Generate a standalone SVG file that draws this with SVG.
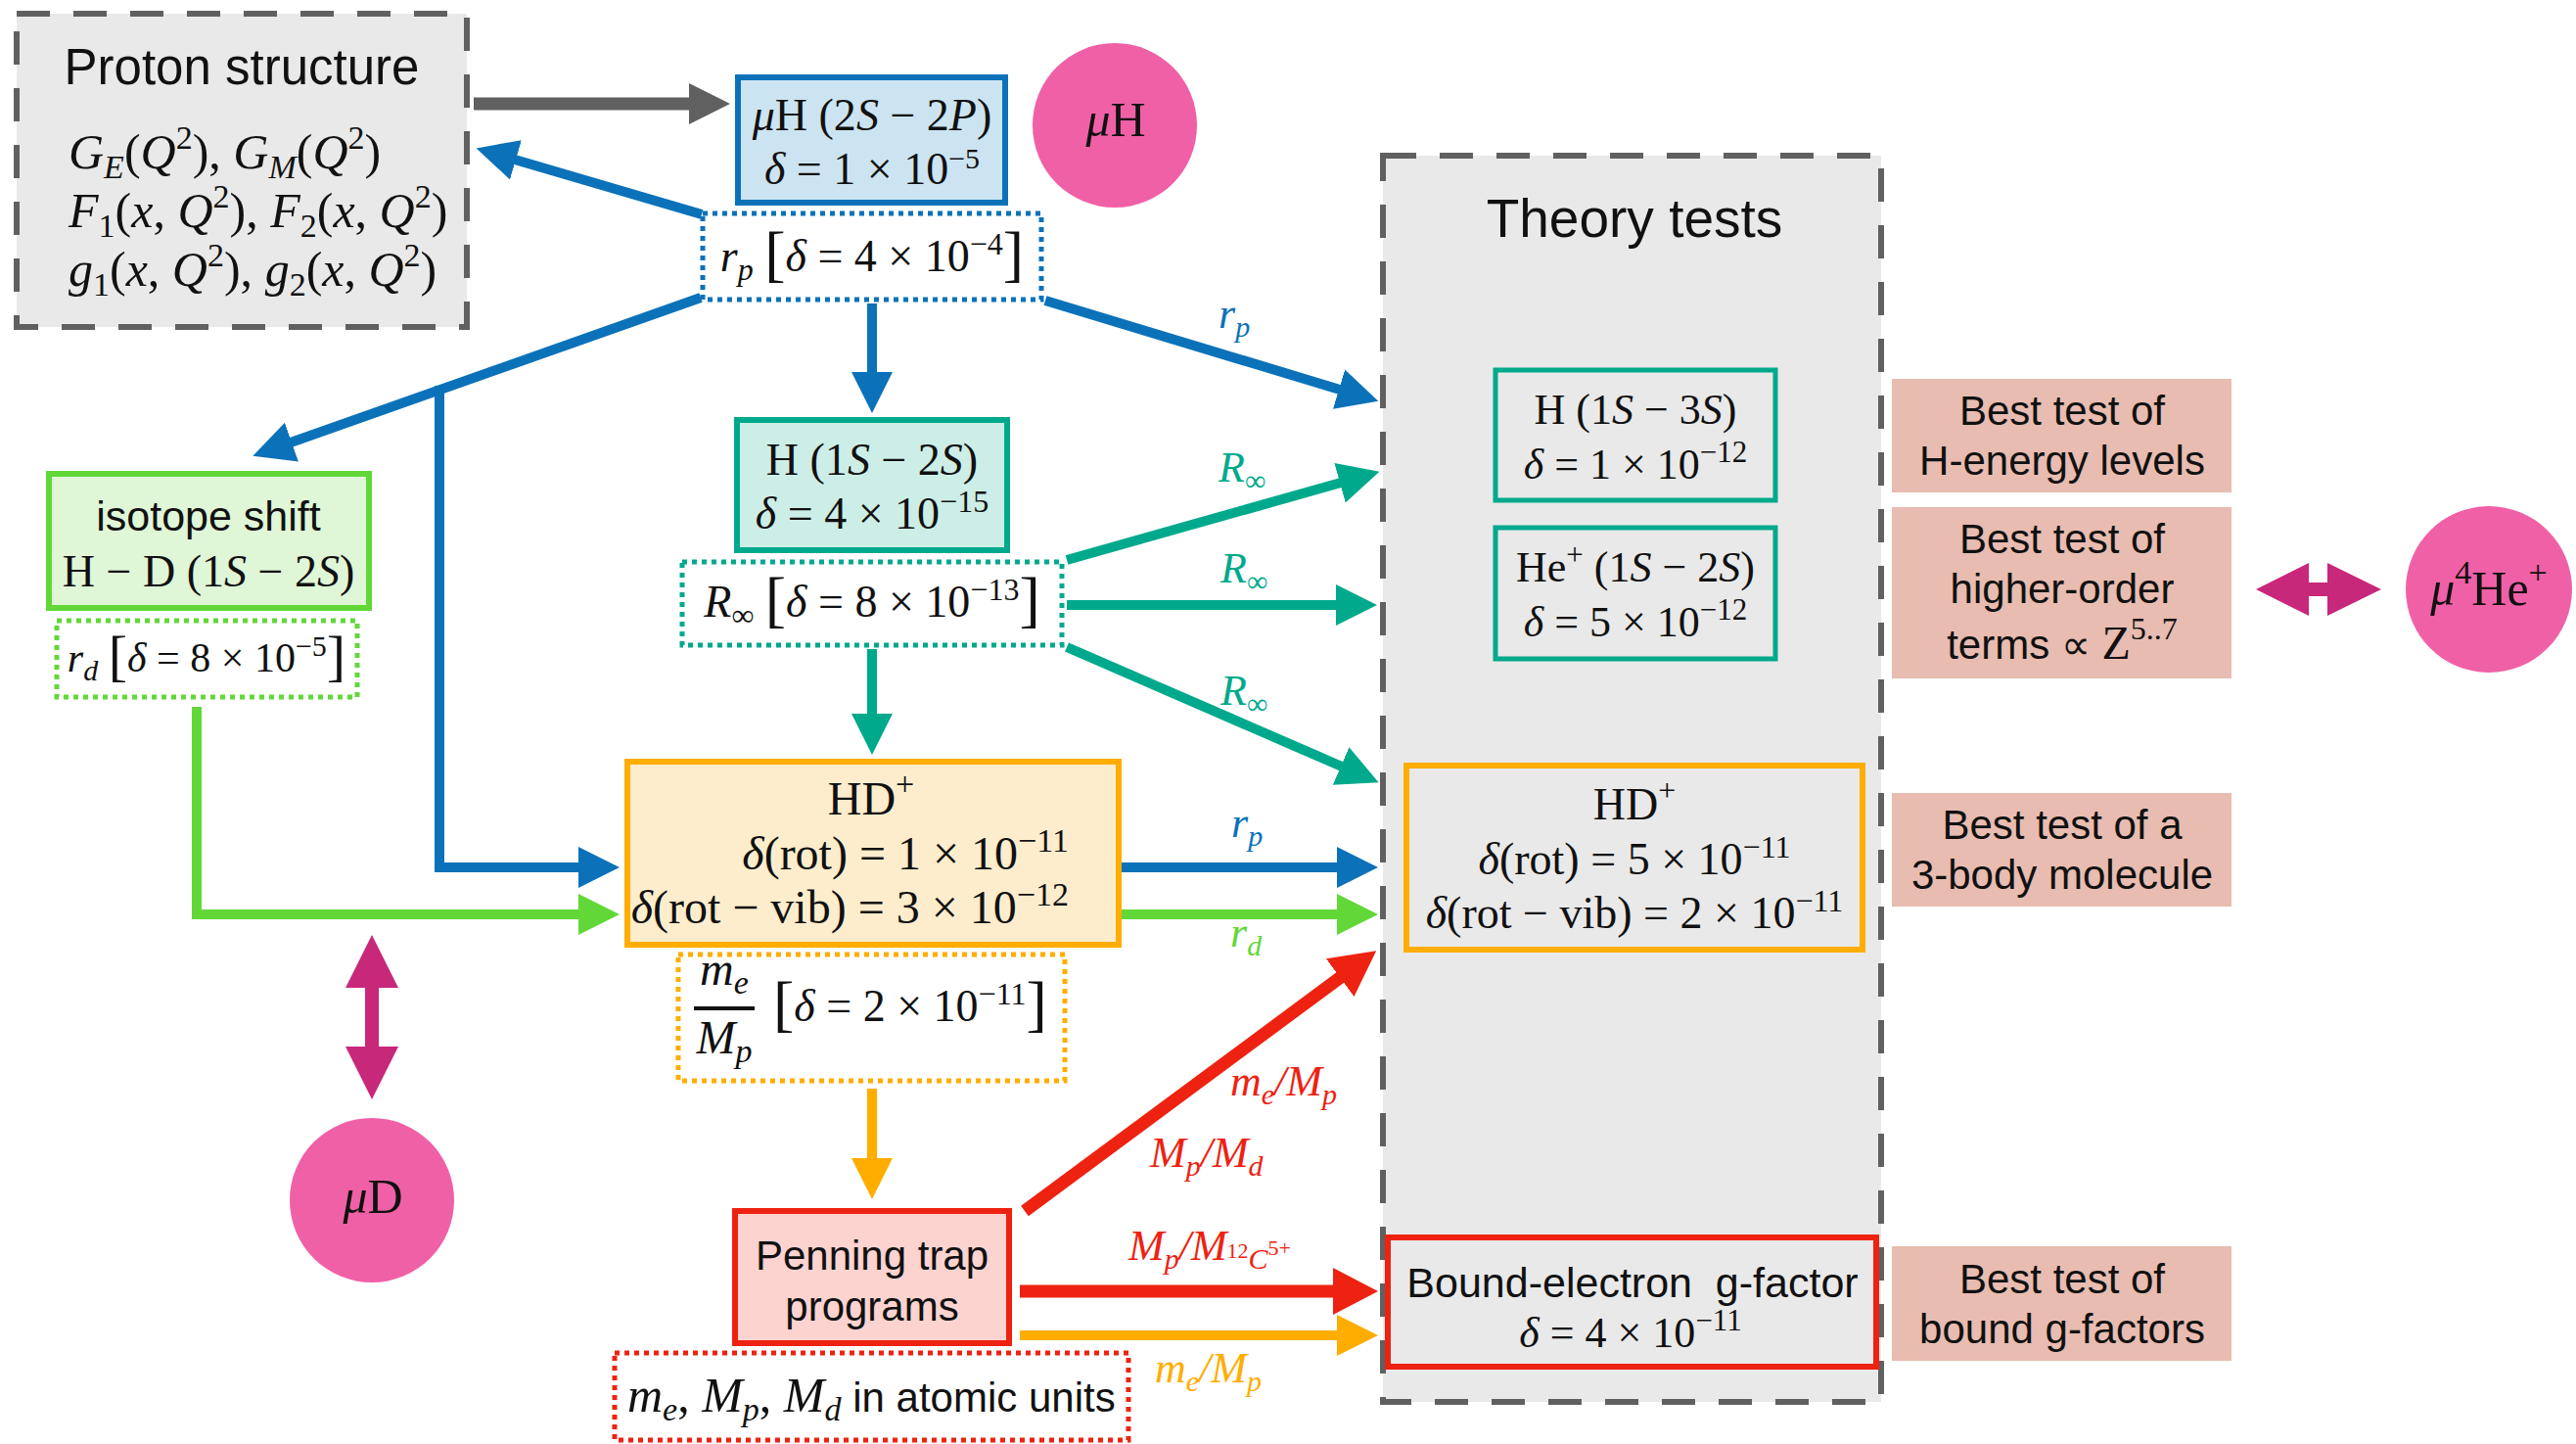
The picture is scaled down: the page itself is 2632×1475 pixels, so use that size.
<svg xmlns="http://www.w3.org/2000/svg" width="2632" height="1475" viewBox="0 0 2632 1475">
<defs>
<style>
.s{font-family:"Liberation Sans",Arial,sans-serif;fill:#111}
.m{font-family:"Liberation Serif","Times New Roman",serif;fill:#111}
.i{font-style:italic}
.c{text-anchor:middle}
.e{text-anchor:end}
.br{font-size:64px}
.dash{fill:#e9e9e9;stroke:#606060;stroke-width:6;stroke-dasharray:34 24}
.dot{fill:none;stroke-width:5;stroke-dasharray:5 5}
.ln{fill:none;stroke-width:10}
.lbl{font-family:"Liberation Serif","Times New Roman",serif;font-style:italic;font-size:44px}
.pink{fill:#f060a7}
.sal{fill:#e8bcb0}
</style>
<marker id="hb" markerUnits="userSpaceOnUse" markerWidth="50" markerHeight="54" viewBox="0 -27 50 54" refX="1" refY="0" orient="auto"><path d="M0,-21L42,0L0,21z" fill="#0b72b9"/></marker>
<marker id="ht" markerUnits="userSpaceOnUse" markerWidth="50" markerHeight="54" viewBox="0 -27 50 54" refX="1" refY="0" orient="auto"><path d="M0,-21L42,0L0,21z" fill="#00a98c"/></marker>
<marker id="hg" markerUnits="userSpaceOnUse" markerWidth="50" markerHeight="54" viewBox="0 -27 50 54" refX="1" refY="0" orient="auto"><path d="M0,-21L42,0L0,21z" fill="#62d838"/></marker>
<marker id="ho" markerUnits="userSpaceOnUse" markerWidth="50" markerHeight="54" viewBox="0 -27 50 54" refX="1" refY="0" orient="auto"><path d="M0,-21L42,0L0,21z" fill="#ffad00"/></marker>
<marker id="hr" markerUnits="userSpaceOnUse" markerWidth="50" markerHeight="54" viewBox="0 -27 50 54" refX="1" refY="0" orient="auto"><path d="M0,-24L46,0L0,24z" fill="#ee2211"/></marker>
<marker id="hk" markerUnits="userSpaceOnUse" markerWidth="50" markerHeight="54" viewBox="0 -27 50 54" refX="1" refY="0" orient="auto"><path d="M0,-21L42,0L0,21z" fill="#606060"/></marker>
</defs>
<rect width="2632" height="1475" fill="#fff"/>

<g id="theory-tests">
<rect class="dash" x="1413" y="159" width="509" height="1273"/>
<text class="s c" x="1670" y="242" font-size="55">Theory tests</text>
</g>

<g id="proton-structure">
<rect class="dash" x="17" y="14" width="460" height="320"/>
<text class="s c" x="247" y="86" font-size="51">Proton structure</text>
<text class="m" x="70" y="172" font-size="50"><tspan class="i">G</tspan><tspan class="i" font-size="34" dy="10">E</tspan><tspan dy="-10">(</tspan><tspan class="i">Q</tspan><tspan font-size="34" dy="-20">2</tspan><tspan dy="20">), </tspan><tspan class="i">G</tspan><tspan class="i" font-size="34" dy="10">M</tspan><tspan dy="-10">(</tspan><tspan class="i">Q</tspan><tspan font-size="34" dy="-20">2</tspan><tspan dy="20">)</tspan></text>
<text class="m" x="70" y="232" font-size="50"><tspan class="i">F</tspan><tspan font-size="34" dy="10">1</tspan><tspan dy="-10">(</tspan><tspan class="i">x</tspan><tspan>, </tspan><tspan class="i">Q</tspan><tspan font-size="34" dy="-20">2</tspan><tspan dy="20">), </tspan><tspan class="i">F</tspan><tspan font-size="34" dy="10">2</tspan><tspan dy="-10">(</tspan><tspan class="i">x</tspan><tspan>, </tspan><tspan class="i">Q</tspan><tspan font-size="34" dy="-20">2</tspan><tspan dy="20">)</tspan></text>
<text class="m" x="70" y="292" font-size="50"><tspan class="i">g</tspan><tspan font-size="34" dy="10">1</tspan><tspan dy="-10">(</tspan><tspan class="i">x</tspan><tspan>, </tspan><tspan class="i">Q</tspan><tspan font-size="34" dy="-20">2</tspan><tspan dy="20">), </tspan><tspan class="i">g</tspan><tspan font-size="34" dy="10">2</tspan><tspan dy="-10">(</tspan><tspan class="i">x</tspan><tspan>, </tspan><tspan class="i">Q</tspan><tspan font-size="34" dy="-20">2</tspan><tspan dy="20">)</tspan></text>
</g>

<g id="connectors">
<line x1="484" y1="106" x2="705" y2="106" stroke="#606060" stroke-width="13" marker-end="url(#hk)"/>
<line class="ln" x1="717" y1="219" x2="526" y2="163" stroke="#0b72b9" marker-end="url(#hb)"/>
<line class="ln" x1="716" y1="304" x2="297" y2="452" stroke="#0b72b9" marker-end="url(#hb)"/>
<polyline class="ln" points="449,394 449,886 592,886" stroke="#0b72b9" marker-end="url(#hb)"/>
<line class="ln" x1="891" y1="310" x2="891" y2="381" stroke="#0b72b9" marker-end="url(#hb)"/>
<line class="ln" x1="1068" y1="307" x2="1369" y2="398" stroke="#0b72b9" marker-end="url(#hb)"/>
<line class="ln" x1="1146" y1="886" x2="1367" y2="886" stroke="#0b72b9" marker-end="url(#hb)"/>
<line class="ln" x1="1090" y1="572" x2="1370" y2="493" stroke="#00a98c" marker-end="url(#ht)"/>
<line class="ln" x1="1090" y1="618" x2="1366" y2="618" stroke="#00a98c" marker-end="url(#ht)"/>
<line class="ln" x1="1090" y1="661" x2="1371" y2="783" stroke="#00a98c" marker-end="url(#ht)"/>
<line class="ln" x1="891" y1="663" x2="891" y2="730" stroke="#00a98c" marker-end="url(#ht)"/>
<polyline class="ln" points="201,722 201,934 592,934" stroke="#62d838" marker-end="url(#hg)"/>
<line class="ln" x1="1146" y1="934" x2="1367" y2="934" stroke="#62d838" marker-end="url(#hg)"/>
<line class="ln" x1="891" y1="1112" x2="891" y2="1184" stroke="#ffad00" marker-end="url(#ho)"/>
<line class="ln" x1="1042" y1="1364" x2="1367" y2="1364" stroke="#ffad00" marker-end="url(#ho)"/>
<line x1="1047" y1="1237" x2="1370" y2="998" stroke="#ee2211" stroke-width="13" marker-end="url(#hr)"/>
<line x1="1042" y1="1319" x2="1363" y2="1319" stroke="#ee2211" stroke-width="13" marker-end="url(#hr)"/>
<text class="lbl" x="1245" y="335" fill="#0b72b9">r<tspan font-size="30" dy="9">p</tspan></text>
<text class="lbl" x="1245" y="492" fill="#00a98c">R<tspan font-size="30" dy="9" font-style="normal">∞</tspan></text>
<text class="lbl" x="1247" y="595" fill="#00a98c">R<tspan font-size="30" dy="9" font-style="normal">∞</tspan></text>
<text class="lbl" x="1247" y="720" fill="#00a98c">R<tspan font-size="30" dy="9" font-style="normal">∞</tspan></text>
<text class="lbl" x="1258" y="855" fill="#0b72b9">r<tspan font-size="30" dy="9">p</tspan></text>
<text class="lbl" x="1257" y="967" fill="#62d838">r<tspan font-size="30" dy="9">d</tspan></text>
<text class="lbl" x="1257" y="1119" fill="#ee2211">m<tspan font-size="30" dy="9">e</tspan><tspan dy="-9">/M</tspan><tspan font-size="30" dy="9">p</tspan></text>
<text class="lbl" x="1175" y="1192" fill="#ee2211">M<tspan font-size="30" dy="9">p</tspan><tspan dy="-9">/M</tspan><tspan font-size="30" dy="9">d</tspan></text>
<text class="lbl" x="1153" y="1287" fill="#ee2211">M<tspan font-size="30" dy="9">p</tspan><tspan dy="-9">/M</tspan><tspan font-size="22" dy="-2" font-style="normal">12</tspan><tspan font-size="30" dy="11">C</tspan><tspan font-size="22" dy="-14" font-style="normal">5+</tspan></text>
<text class="lbl" x="1180" y="1412" fill="#ffad00">m<tspan font-size="30" dy="9">e</tspan><tspan dy="-9">/M</tspan><tspan font-size="30" dy="9">p</tspan></text>
</g>

<g id="muH-2S2P">
<rect x="754" y="79" width="273" height="128" fill="#cce4f2" stroke="#0b72b9" stroke-width="6"/>
<text class="m c" x="891" y="133" font-size="46"><tspan class="i">μ</tspan>H (2<tspan class="i">S</tspan> − 2<tspan class="i">P</tspan>)</text>
<text class="m c" x="891" y="188" font-size="46"><tspan class="i">δ</tspan> = 1 × 10<tspan font-size="30" dy="-16">−5</tspan></text>
</g>

<g id="muH">
<circle class="pink" cx="1139" cy="128" r="84"/>
<text class="m c" x="1140" y="139" font-size="50"><tspan class="i">μ</tspan>H</text>
</g>

<g id="rp">
<rect class="dot" x="718" y="218" width="346" height="88" stroke="#0b72b9"/>
<text class="m c" x="891" y="277" font-size="46"><tspan class="i">r</tspan><tspan class="i" font-size="32" dy="9">p</tspan><tspan dy="-9">  </tspan><tspan class="br" dy="3">[</tspan><tspan class="i" dy="-3">δ</tspan> = 4 × 10<tspan font-size="32" dy="-17">−4</tspan><tspan class="br" dy="20">]</tspan></text>
</g>

<g id="H-1S2S">
<rect x="753" y="429" width="276" height="133" fill="#cdeee7" stroke="#00a98c" stroke-width="6"/>
<text class="m c" x="891" y="485" font-size="46">H (1<tspan class="i">S</tspan> − 2<tspan class="i">S</tspan>)</text>
<text class="m c" x="891" y="540" font-size="46"><tspan class="i">δ</tspan> = 4 × 10<tspan font-size="32" dy="-17">−15</tspan></text>
</g>

<g id="Rinf">
<rect class="dot" x="697" y="574" width="388" height="85" stroke="#00a98c"/>
<text class="m c" x="891" y="630" font-size="46"><tspan class="i">R</tspan><tspan font-size="32" dy="9">∞</tspan><tspan dy="-9">  </tspan><tspan class="br" dy="3">[</tspan><tspan class="i" dy="-3">δ</tspan> = 8 × 10<tspan font-size="32" dy="-17">−13</tspan><tspan class="br" dy="20">]</tspan></text>
</g>

<g id="isotope-shift">
<rect x="50" y="484" width="327" height="137" fill="#dff6d7" stroke="#62d838" stroke-width="6"/>
<text class="s c" x="213" y="542" font-size="43">isotope shift</text>
<text class="m c" x="213" y="599" font-size="46">H − D (1<tspan class="i">S</tspan> − 2<tspan class="i">S</tspan>)</text>
</g>

<g id="rd">
<rect class="dot" x="58" y="634" width="307" height="78" stroke="#62d838"/>
<text class="m c" x="211" y="686" font-size="42"><tspan class="i">r</tspan><tspan class="i" font-size="30" dy="9">d</tspan><tspan dy="-9"> </tspan><tspan font-size="58" dy="3">[</tspan><tspan class="i" dy="-3">δ</tspan> = 8 × 10<tspan font-size="30" dy="-16">−5</tspan><tspan font-size="58" dy="19">]</tspan></text>
</g>

<g id="HDplus">
<rect x="641" y="778" width="502" height="187" fill="#feedcc" stroke="#ffad00" stroke-width="6"/>
<text class="m c" x="890" y="832" font-size="48">HD<tspan font-size="34" dy="-20">+</tspan></text>
<text class="m e" x="1092" y="888" font-size="48"><tspan class="i">δ</tspan>(rot) = 1 × 10<tspan font-size="34" dy="-18">−11</tspan></text>
<text class="m e" x="1092" y="943" font-size="48"><tspan class="i">δ</tspan>(rot − vib) = 3 × 10<tspan font-size="34" dy="-18">−12</tspan></text>
</g>

<g id="me-Mp">
<rect class="dot" x="693" y="975" width="395" height="129" stroke="#ffad00"/>
<text class="m c" x="740" y="1006" font-size="48"><tspan class="i">m</tspan><tspan class="i" font-size="34" dy="9">e</tspan></text>
<line x1="709" y1="1030" x2="771" y2="1030" stroke="#111" stroke-width="4"/>
<text class="m c" x="740" y="1076" font-size="48"><tspan class="i">M</tspan><tspan class="i" font-size="34" dy="9">p</tspan></text>
<text class="m" x="790" y="1043" font-size="46"><tspan class="br" dy="3">[</tspan><tspan class="i" dy="-3">δ</tspan> = 2 × 10<tspan font-size="32" dy="-17">−11</tspan><tspan class="br" dy="20">]</tspan></text>
</g>

<g id="penning-trap">
<rect x="751" y="1237" width="280" height="135" fill="#fdd3d0" stroke="#ee2211" stroke-width="6"/>
<text class="s c" x="891" y="1297" font-size="42">Penning trap</text>
<text class="s c" x="891" y="1349" font-size="42">programs</text>
</g>

<g id="atomic-units">
<rect class="dot" x="628" y="1382" width="525" height="89" stroke="#ee2211"/>
<text class="m" x="641" y="1442" font-size="50"><tspan class="i">m</tspan><tspan class="i" font-size="34" dy="9">e</tspan><tspan dy="-9">, </tspan><tspan class="i">M</tspan><tspan class="i" font-size="34" dy="9">p</tspan><tspan dy="-9">, </tspan><tspan class="i">M</tspan><tspan class="i" font-size="34" dy="9">d</tspan><tspan class="s" font-size="42" dy="-9"> in atomic units</tspan></text>
</g>

<g id="H-1S3S">
<rect x="1528" y="378" width="286" height="133" fill="none" stroke="#00a98c" stroke-width="5"/>
<text class="m c" x="1671" y="433" font-size="44">H (1<tspan class="i">S</tspan> − 3<tspan class="i">S</tspan>)</text>
<text class="m c" x="1671" y="489" font-size="44"><tspan class="i">δ</tspan> = 1 × 10<tspan font-size="31" dy="-17">−12</tspan></text>
</g>

<g id="He-1S2S">
<rect x="1528" y="539" width="286" height="134" fill="none" stroke="#00a98c" stroke-width="5"/>
<text class="m c" x="1671" y="594" font-size="44">He<tspan font-size="31" dy="-17">+</tspan><tspan dy="17"> (1</tspan><tspan class="i">S</tspan> − 2<tspan class="i">S</tspan>)</text>
<text class="m c" x="1671" y="650" font-size="44"><tspan class="i">δ</tspan> = 5 × 10<tspan font-size="31" dy="-17">−12</tspan></text>
</g>

<g id="HDplus-theory">
<rect x="1437" y="782" width="466" height="188" fill="none" stroke="#ffad00" stroke-width="6"/>
<text class="m c" x="1670" y="837" font-size="46">HD<tspan font-size="32" dy="-19">+</tspan></text>
<text class="m c" x="1670" y="893" font-size="46"><tspan class="i">δ</tspan>(rot) = 5 × 10<tspan font-size="32" dy="-17">−11</tspan></text>
<text class="m c" x="1670" y="948" font-size="46"><tspan class="i">δ</tspan>(rot − vib) = 2 × 10<tspan font-size="32" dy="-17">−11</tspan></text>
</g>

<g id="bound-electron">
<rect x="1418" y="1264" width="499" height="132" fill="none" stroke="#ee2211" stroke-width="6"/>
<text class="s c" x="1668" y="1325" font-size="43">Bound-electron&#160; g-factor</text>
<text class="m c" x="1666" y="1376" font-size="44"><tspan class="i">δ</tspan> = 4 × 10<tspan font-size="31" dy="-17">−11</tspan></text>
</g>

<g id="best-H">
<rect class="sal" x="1933" y="387" width="347" height="116"/>
<text class="s c" x="2107" y="434" font-size="42">Best test of</text>
<text class="s c" x="2107" y="485" font-size="42">H-energy levels</text>
</g>
<g id="best-higher">
<rect class="sal" x="1933" y="518" width="347" height="175"/>
<text class="s c" x="2107" y="565" font-size="42">Best test of</text>
<text class="s c" x="2107" y="616" font-size="42">higher-order</text>
<text class="s c" x="2107" y="673" font-size="42">terms ∝ <tspan class="m" font-size="48">Z</tspan><tspan class="m" font-size="32" dy="-20">5..7</tspan></text>
</g>
<g id="best-3body">
<rect class="sal" x="1933" y="810" width="347" height="116"/>
<text class="s c" x="2107" y="857" font-size="42">Best test of a</text>
<text class="s c" x="2107" y="908" font-size="42">3-body molecule</text>
</g>
<g id="best-g">
<rect class="sal" x="1933" y="1273" width="347" height="117"/>
<text class="s c" x="2107" y="1321" font-size="42">Best test of</text>
<text class="s c" x="2107" y="1372" font-size="42">bound g-factors</text>
</g>

<g id="double-arrow-He">
<polygon fill="#c8287a" points="2305,602 2359,575 2359,595 2378,595 2378,575 2433,602 2378,629 2378,609 2359,609 2359,629"/>
</g>
<g id="muHe">
<circle class="pink" cx="2543" cy="602" r="85"/>
<text class="m c" x="2543" y="618" font-size="50"><tspan class="i">μ</tspan><tspan font-size="34" dy="-22">4</tspan><tspan dy="22">He</tspan><tspan font-size="34" dy="-22">+</tspan></text>
</g>

<g id="double-arrow-D">
<polygon fill="#c8287a" points="380,955 407,1009 387,1009 387,1069 407,1069 380,1123 353,1069 373,1069 373,1009 353,1009"/>
</g>
<g id="muD">
<circle class="pink" cx="380" cy="1226" r="84"/>
<text class="m c" x="381" y="1239" font-size="50"><tspan class="i">μ</tspan>D</text>
</g>
</svg>
